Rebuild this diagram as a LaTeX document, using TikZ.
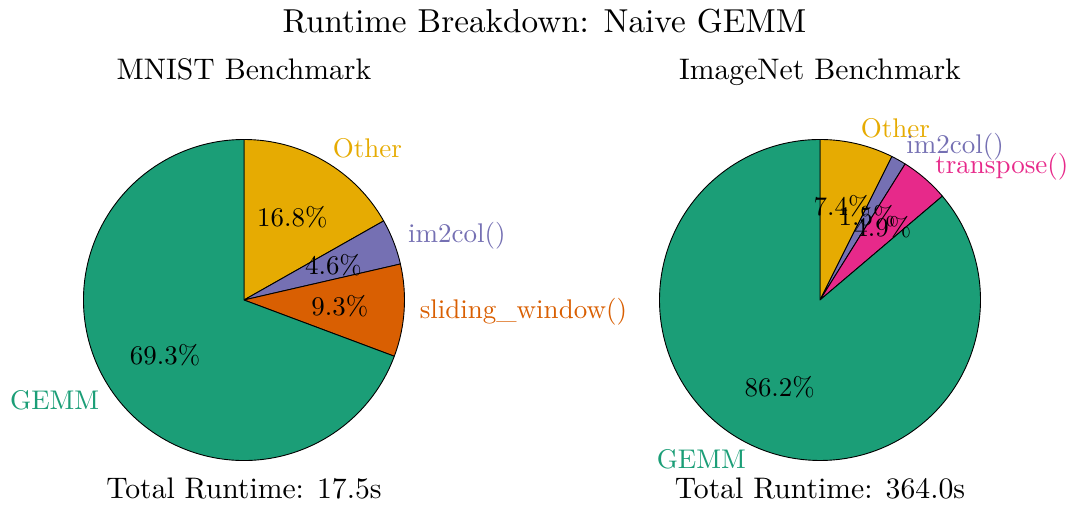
\documentclass[tikz,border=0pt]{standalone}
\usepackage{fontspec}
\setmainfont{lmroman10-regular}[Extension=.otf]
\usetikzlibrary{calc}
\definecolor{cgemm}{HTML}{1B9E77}
\definecolor{cslide}{HTML}{D95F02}
\definecolor{cim}{HTML}{7570B3}
\definecolor{ctrans}{HTML}{E7298A}
\definecolor{cother}{HTML}{E6AB02}
\tikzset{
  wedge/.style={draw=black, line width=0.9pt, line join=round},
  ttl/.style={inner sep=0pt, font=\fontsize{33.2}{36}\selectfont},
  sub/.style={inner sep=0pt, font=\fontsize{29.7}{32}\selectfont},
  lbl/.style={inner sep=0pt, font=\fontsize{27}{30}\selectfont},
  pct/.style={inner sep=0pt, font=\fontsize{26.9}{30}\selectfont, text=black},
}
\newcommand\pieslice[5]{% center, a1, a2, color, r
  \draw[wedge, fill=#4] (#1) -- ++(#2:#5) arc[start angle=#2, end angle=#3, radius=#5] -- cycle;}
\begin{document}
\begin{tikzpicture}[x=1pt,y=1pt]
\useasboundingbox (0,0) rectangle (1069,505);
\coordinate (cl) at (244,205);
\coordinate (cr) at (820,205);
\def\R{160.5}
% left pie
\pieslice{cl}{90}{29.52}{cother}{\R}
\pieslice{cl}{29.52}{12.96}{cim}{\R}
\pieslice{cl}{12.96}{-20.52}{cslide}{\R}
\pieslice{cl}{-20.52}{-270}{cgemm}{\R}
% right pie
\pieslice{cr}{90}{63.36}{cother}{\R}
\pieslice{cr}{63.36}{57.96}{cim}{\R}
\pieslice{cr}{57.96}{40.32}{ctrans}{\R}
\pieslice{cr}{40.32}{-270}{cgemm}{\R}
% left labels
\node[lbl, text=cother, anchor=west] (lo) at ($(cl)+(59.76:176)$) {Other};
\node[lbl, text=cim, anchor=west] (li) at ($(cl)+(21.24:176)$) {im2col()};
\node[lbl, text=cslide, anchor=west] (ls) at ($(cl)+(-3.78:176)$) {sliding\_window()};
\node[lbl, text=cgemm, anchor=east] (lg) at ($(cl)+(-145.26:176)$) {GEMM};
\node[pct] (plo) at ($(cl)+(59.76:96)$) {16.8\%};
\node[pct] (pli) at ($(cl)+(21.24:96)$) {4.6\%};
\node[pct] (pls) at ($(cl)+(-3.78:96)$) {9.3\%};
\node[pct] (plg) at ($(cl)+(-145.26:96)$) {69.3\%};
% right labels
\node[lbl, text=cother, anchor=west] (ro) at ($(cr)+(76.68:176)$) {Other};
\node[lbl, text=cim, anchor=west] (ri) at ($(cr)+(60.66:176)$) {im2col()};
\node[lbl, text=ctrans, anchor=west] (rt) at ($(cr)+(49.14:176)$) {transpose()};
\node[lbl, text=cgemm, anchor=east] (rg) at ($(cr)+(-114.84:176)$) {GEMM};
\node[pct] (pro) at ($(cr)+(76.68:96)$) {7.4\%};
\node[pct] (pri) at ($(cr)+(60.66:96)$) {1.5\%};
\node[pct] (prt) at ($(cr)+(49.14:96)$) {4.9\%};
\node[pct] (prg) at ($(cr)+(-114.84:96)$) {86.2\%};
% titles
\node[ttl, anchor=base] (title) at (544.5,472) {Runtime Breakdown: Naive GEMM};
\node[sub, anchor=base] (tl) at (244,425) {MNIST Benchmark};
\node[sub, anchor=base] (tr) at (820,425) {ImageNet Benchmark};
\node[sub, anchor=base] (bl) at (244,6) {Total Runtime: 17.5s};
\node[sub, anchor=base] (br) at (820,6) {Total Runtime: 364.0s};
\end{tikzpicture}
\end{document}
